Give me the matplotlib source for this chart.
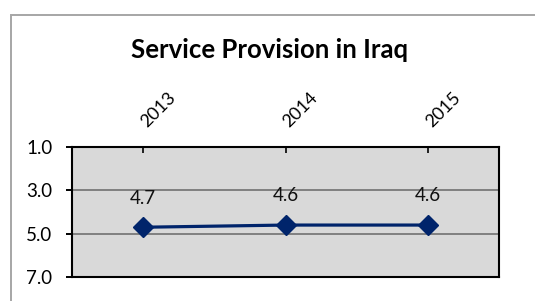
import matplotlib
matplotlib.use("Agg")
import matplotlib.pyplot as plt
from matplotlib.patches import Rectangle
from matplotlib.transforms import ScaledTranslation

# data
years = ["2013", "2014", "2015"]
scores = [4.7, 4.6, 4.6]
y_ticks = [1.0, 3.0, 5.0, 7.0]

plt.rcParams["font.family"] = ["Lato", "DejaVu Sans"]

fig = plt.figure(figsize=(5.35, 3.01), dpi=100)
ax = fig.add_axes([72 / 535, 1 - 277.3 / 301, 427 / 535, 130.6 / 301])

# outer chart border (runs off the right and bottom edges)
fig.add_artist(Rectangle((10.5 / 535, -0.1), 2, 1.1 - 14.5 / 301,
                         transform=fig.transFigure, fill=False,
                         edgecolor="#a6a6a6", linewidth=1.4, zorder=0))

x = list(range(len(years)))
ax.set_facecolor("#d9d9d9")
ax.plot(x, scores, color="#00246b", linewidth=2.3, marker="D",
        markersize=10, zorder=3)

for xi, v in zip(x, scores):
    ax.annotate(f"{v:.1f}", (xi, v), xytext=(0, 21), textcoords="offset points",
                ha="center", va="center", fontsize=13.5, color="#111111")

ax.set_xlim(-0.5, len(years) - 0.5)
ax.set_ylim(7.0, 1.0)
ax.set_yticks(y_ticks)
ax.set_yticklabels([f"{t:.1f}" for t in y_ticks], fontsize=13.5)
ax.yaxis.grid(True, color="#808080", linewidth=1.4)
ax.set_axisbelow(True)

ax.xaxis.tick_top()
ax.set_xticks(x)
ax.set_xticklabels(years, rotation=45, ha="left", fontsize=13)

ax.tick_params(axis="x", direction="in", length=4, width=1.2, pad=12)
ax.tick_params(axis="y", direction="out", length=4, width=1.4, pad=10)
for s in ax.spines.values():
    s.set_linewidth(1.5)
    s.set_color("black")

# nudge the rotated year labels a little left, as in the original
shift = ScaledTranslation(-5 / 100, 0, fig.dpi_scale_trans)
for tick in ax.xaxis.get_major_ticks():
    tick.label2.set_transform(tick.label2.get_transform() + shift)

fig.text(269.5 / 535, 1 - 50 / 301, "Service Provision in Iraq", ha="center",
         va="center", fontsize=18.5, fontweight="bold")

fig.savefig("out.png", dpi=100)
